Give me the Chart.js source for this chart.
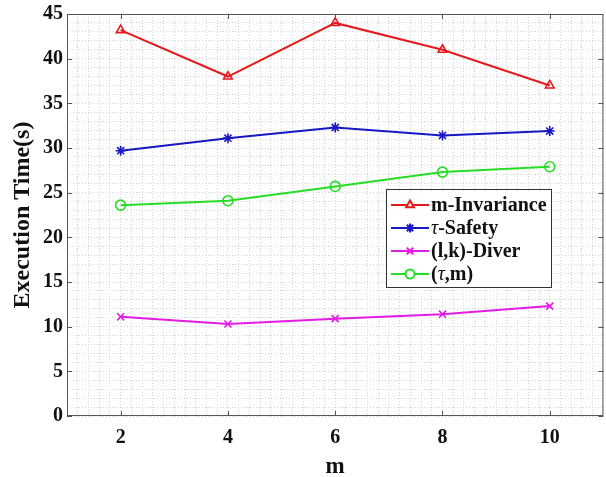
<!DOCTYPE html>
<html>
<head>
<meta charset="utf-8">
<script src="https://cdn.jsdelivr.net/npm/chart.js@4.4.0/dist/chart.umd.min.js"></script>
<style>
  html, body { margin: 0; padding: 0; background: #fff; overflow: hidden; }
  #frame { width: 606px; height: 477px; overflow: hidden; }
  #wrap { width: 610px; height: 477px; position: relative; }
</style>
</head>
<body>
<div id="frame"><div id="wrap"><canvas id="execChart"></canvas></div></div>
<script>
const mValues = [2, 4, 6, 8, 10];
const mInvariance = [43.2, 38.0, 44.0, 41.0, 37.0];
const tauSafety = [29.7, 31.1, 32.3, 31.4, 31.9];
const lkDiver = [11.1, 10.3, 10.9, 11.4, 12.3];
const tauM = [23.6, 24.1, 25.7, 27.3, 27.9];

const xTickLabels = [2, 4, 6, 8, 10];
const yTickLabels = [0, 5, 10, 15, 20, 25, 30, 35, 40, 45];

const serif = '"Liberation Serif", "Times New Roman", serif';

const seriesDefs = [
    { name: [['m-Invariance', false]], data: mInvariance, color: '#e51a1f', style: 'triangle' },
    { name: [['τ', true], ['-Safety', false]], data: tauSafety, color: '#1717c4', style: 'star' },
    { name: [['(l,k)-Diver', false]], data: lkDiver, color: '#e31ce3', style: 'crossRot' },
    { name: [['(', false], ['τ', true], [',m)', false]], data: tauM, color: '#25dd25', style: 'circle' }
];

function toPoints(arr) {
    return arr.map((v, i) => ({ x: mValues[i], y: v }));
}

function isMajorX(v) {
    return xTickLabels.some(t => Math.abs(t - v) < 1e-6);
}
function isMajorY(v) {
    return yTickLabels.some(t => Math.abs(t - v) < 1e-6);
}

// box + inward tick marks + in-axes legend
const matlabAxes = {
    id: 'matlabAxes',
    afterDraw(chart) {
        const { ctx, chartArea: a, scales } = chart;
        ctx.save();
        ctx.strokeStyle = '#555';
        ctx.lineWidth = 1;
        ctx.strokeRect(a.left + 0.5, a.top + 0.5, a.right - a.left - 1, a.bottom - a.top - 1);
        ctx.beginPath();
        xTickLabels.forEach(t => {
            const px = Math.round(scales.x.getPixelForValue(t)) + 0.5;
            ctx.moveTo(px, a.bottom); ctx.lineTo(px, a.bottom - 5);
            ctx.moveTo(px, a.top); ctx.lineTo(px, a.top + 5);
        });
        yTickLabels.forEach(t => {
            const py = Math.round(scales.y.getPixelForValue(t)) + 0.5;
            ctx.moveTo(a.left, py); ctx.lineTo(a.left + 5, py);
            ctx.moveTo(a.right, py); ctx.lineTo(a.right - 5, py);
        });
        ctx.stroke();

        // legend
        const lx = 386, ly = 189, lw = 165, lh = 98;
        ctx.fillStyle = '#fff';
        ctx.fillRect(lx, ly, lw, lh);
        ctx.strokeStyle = '#333';
        ctx.strokeRect(lx + 0.5, ly + 0.5, lw, lh);
        seriesDefs.forEach((s, i) => {
            const cy = ly + 16 + i * 23;
            ctx.strokeStyle = s.color;
            ctx.lineWidth = 2;
            ctx.beginPath();
            ctx.moveTo(lx + 5, cy); ctx.lineTo(lx + 43, cy);
            ctx.stroke();
            ctx.fillStyle = '#fff';
            Chart.helpers.drawPoint(ctx, { pointStyle: s.style, radius: 4.5, borderWidth: 1.6 }, lx + 24, cy);
            let tx = lx + 45;
            ctx.fillStyle = '#111';
            ctx.textBaseline = 'middle';
            s.name.forEach(([txt, it]) => {
                ctx.font = (it ? 'italic ' : 'bold ') + '20px ' + serif;
                ctx.fillText(txt, tx, cy + 1);
                tx += ctx.measureText(txt).width;
            });
        });
        ctx.restore();
    }
};

const chart = new Chart(document.getElementById('execChart'), {
    type: 'line',
    data: {
        datasets: seriesDefs.map(s => ({
            label: s.name.map(p => p[0]).join(''),
            data: toPoints(s.data),
            borderColor: s.color,
            backgroundColor: 'rgba(0,0,0,0)',
            borderWidth: 2,
            pointStyle: s.style,
            pointRadius: 5,
            pointBorderWidth: 1.6,
            pointBorderColor: s.color,
            pointBackgroundColor: 'rgba(0,0,0,0)',
            tension: 0
        }))
    },
    options: {
        responsive: true,
        maintainAspectRatio: false,
        animation: false,
        layout: { padding: { top: 14, right: 0, left: 0, bottom: 0 } },
        plugins: { legend: { display: false }, tooltip: { enabled: false } },
        scales: {
            x: {
                type: 'linear',
                min: 1, max: 11,
                afterFit(scale) {
                    scale.height = 61;
                    scale.paddingLeft = 0;
                    scale.paddingRight = 0;
                },
                afterBuildTicks(scale) {
                    const t = [];
                    for (let i = 0; i <= 50; i++) t.push({ value: +(1 + i * 0.2).toFixed(1) });
                    scale.ticks = t;
                },
                grid: { color: '#d4d4d4', drawTicks: false, lineWidth: 1 },
                border: { display: false, dash: [1, 2] },
                ticks: {
                    autoSkip: false,
                    maxRotation: 0,
                    padding: 10,
                    color: '#111',
                    font: { family: serif, size: 20, weight: 'bold' },
                    callback: v => isMajorX(v) ? Math.round(v) : ''
                },
                title: {
                    display: true, text: 'm', color: '#111',
                    font: { family: serif, size: 23, weight: 'bold' },
                    padding: { top: 0, bottom: -4 }
                }
            },
            y: {
                type: 'linear',
                min: 0, max: 45,
                afterFit(scale) {
                    scale.width = 67;
                    scale.paddingTop = 0;
                    scale.paddingBottom = 0;
                },
                afterBuildTicks(scale) {
                    const t = [];
                    for (let i = 0; i <= 45; i++) t.push({ value: i });
                    scale.ticks = t;
                },
                grid: { color: '#d4d4d4', drawTicks: false, lineWidth: 1 },
                border: { display: false, dash: [1, 2] },
                ticks: {
                    autoSkip: false,
                    padding: 4,
                    color: '#111',
                    font: { family: serif, size: 20, weight: 'bold' },
                    callback: v => isMajorY(v) ? v : ''
                },
                title: {
                    display: true, text: 'Execution Time(s)', color: '#111',
                    font: { family: serif, size: 24, weight: 'bold' },
                    padding: { top: 8, bottom: 0 }
                }
            }
        }
    },
    plugins: [matlabAxes]
});
</script>
</body>
</html>
